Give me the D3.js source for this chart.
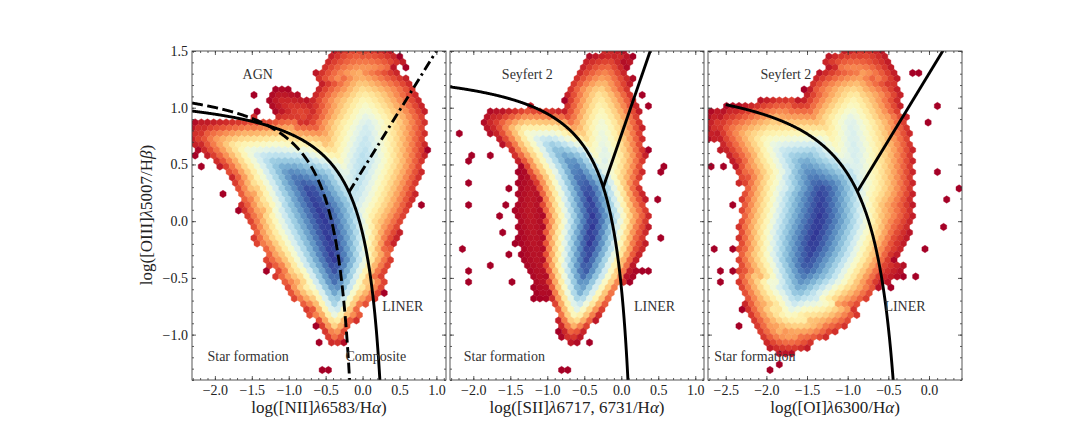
<!DOCTYPE html>
<html>
<head>
<meta charset="utf-8">
<script src="https://cdn.jsdelivr.net/npm/d3@7"></script>
<style>
body { margin: 0; background: #fff; }
text { font-family: "Liberation Serif", "DejaVu Serif", serif; }
</style>
</head>
<body>
<div id="chart"></div>
<script>
// ---- data ----
var yDomain = [-1.4, 1.5];
var yTicks = [-1.0, -0.5, 0.0, 0.5, 1.0, 1.5];

var nIIDomain = [-2.31, 1.13];
var sIIDomain = [-2.315, 1.118];
var oIDomain = [-2.718, 0.406];
var nIITicks = [-2.0, -1.5, -1.0, -0.5, 0.0, 0.5, 1.0];
var sIITicks = [-2.0, -1.5, -1.0, -0.5, 0.0, 0.5, 1.0];
var oITicks = [-2.5, -2.0, -1.5, -1.0, -0.5, 0.0];

// density ridges: [x, y, peak level (0 = 1 count .. 1 = max), spread in x units]
var nIIStarForming = [[-2.20, 0.760, .10, .20], [-2.129, 0.750, .18, .24], [-1.632, 0.648, .50, .42], [-1.226, 0.530, .72, .66],
  [-0.955, 0.412, .88, .80], [-0.707, 0.265, .98, .93], [-0.548, 0.060, 1.0, 1.0], [-0.458, -0.146, 1.0, .90],
  [-0.390, -0.352, 1.0, .76], [-0.368, -0.558, .90, .57], [-0.368, -0.793, .64, .33], [-0.368, -0.999, .24, .16]];
var nIIAgn = [[-0.277, -0.146, .60, .68], [-0.097, 0.236, .66, .78], [0.016, 0.559, .68, .82],
  [0.061, 0.853, .62, .82], [0.016, 1.088, .47, .73], [-0.052, 1.294, .28, .50], [-0.097, 1.441, .10, .27]];
var nIIShoulder = [[-1.090, 1.059, .08, .18], [-0.819, 0.941, .15, .25]];

var sIIStarForming = [[-1.684, 0.868, .12, .19], [-1.324, 0.795, .48, .36], [-0.964, 0.677, .72, .49],
  [-0.648, 0.501, .88, .58], [-0.446, 0.265, .98, .66], [-0.378, 0.030, 1.0, .66], [-0.423, -0.205, 1.0, .64],
  [-0.491, -0.440, .95, .56], [-0.558, -0.646, .78, .43], [-0.626, -0.852, .48, .27], [-0.671, -0.999, .14, .14]];
var sIIHalo = [[-1.180, 0.480, .04, .18], [-1.234, 0.089, .05, .22], [-1.144, -0.322, .04, .20], [-1.020, -0.616, .03, .14]];
var sIIAgn = [[-0.243, 0.265, .58, .50], [-0.220, 0.559, .60, .55], [-0.265, 0.853, .55, .55],
  [-0.288, 1.118, .42, .46], [-0.198, 1.324, .22, .37], [-0.108, 1.456, .08, .19]];
var sIILiner = [[-0.198, 0.265, .55, .46], [-0.018, 0.030, .45, .42], [0.027, -0.234, .26, .33], [0.027, -0.411, .08, .19]];

var oIStarForming = [[-2.60, 0.830, .08, .20], [-2.472, 0.824, .18, .29], [-1.980, 0.706, .52, .60], [-1.529, 0.501, .82, .84],
  [-1.324, 0.265, .98, .97], [-1.345, 0.030, 1.0, .99], [-1.427, -0.205, 1.0, .95], [-1.508, -0.411, .95, .86],
  [-1.611, -0.616, .78, .67], [-1.713, -0.822, .52, .47], [-1.796, -0.969, .24, .30], [-1.836, -1.043, .08, .16]];
var oIAgn = [[-0.873, 0.324, .60, .69], [-0.914, 0.618, .62, .73], [-0.955, 0.883, .60, .69],
  [-0.914, 1.118, .44, .57], [-0.832, 1.294, .24, .41], [-0.750, 1.441, .08, .21]];
var oILiner = [[-0.873, 0.324, .55, .60], [-0.791, 0.030, .45, .62], [-0.750, -0.264, .22, .49], [-0.709, -0.411, .07, .26]];

// isolated single-count bins
var nIISparse = [[-1.43, 1.10], [-1.43, 0.97], [-0.458, 1.32], [-2.29, 0.59], [-2.17, 0.47], [-1.88, 0.25],
  [-1.70, 0.09], [-1.59, 0.06], [-1.34, -0.43], [-1.27, -0.31], [-1.11, -0.50], [-0.955, -0.53], [-0.73, -0.69],
  [-0.617, -0.94], [0.039, -0.63], [0.152, -0.56], [0.264, -0.65], [0.829, 0.148], [0.897, 0.618], [0.874, 0.868],
  [0.648, 1.206], [0.58, 1.35], [0.49, 1.44], [-0.187, 1.47], [-1.00, 1.147], [-0.58, -1.33], [-0.44, -1.33],
  [-0.56, -1.05], [-0.06, -0.67], [-1.10, -0.48]];
var sIISparse = [[-2.18, 0.78], [-2.09, 0.515], [-1.98, 0.574], [-2.09, 0.324], [-2.045, 0.163], [-1.73, 0.574],
  [-1.59, 0.163], [-1.61, 0.06], [-2.18, -0.25], [-2.045, -0.455], [-2.045, -0.558], [-1.75, -0.396], [-1.48, -0.558],
  [-1.64, -0.10], [-1.21, -0.66], [-0.874, -0.97], [-0.806, -0.97], [-0.693, -1.07], [-0.40, -1.07], [0.252, -0.455],
  [0.117, -0.558], [0.388, -0.455], [0.52, -0.146], [0.52, 0.207], [0.613, 0.471], [0.50, 0.427], [0.388, 0.618],
  [0.388, 1.03], [0.252, 1.118], [0.14, 1.44], [-0.22, 1.485], [-0.78, 1.074], [-0.78, -1.33], [-0.73, -1.33],
  [-1.50, 0.30], [-1.45, -0.20], [-1.55, -0.30], [-1.40, 0.45]];
var oISparse = [[-2.68, 0.47], [-2.66, -0.26], [-2.53, 0.47], [-2.41, 0.133], [-2.45, -0.425], [-2.43, -0.26],
  [-2.33, -0.763], [-2.31, -0.94], [-1.775, -1.057], [-1.28, -1.03], [-0.443, -0.60], [-0.30, -0.50], [-0.176, -0.50],
  [-0.03, -0.26], [0.152, -0.028], [0.193, 0.177], [0.07, 0.412], [0.378, 0.30], [0.0, 0.868], [0.11, 1.03],
  [-0.237, 1.324], [-0.135, 1.324], [-0.627, 1.485], [-1.51, 1.16], [-1.41, 1.088], [-1.956, -1.33], [-1.855, -1.27],
  [-2.57, -0.43], [-2.57, -0.55]];

// demarcation lines: hyperbola [a, b, c] -> y = a/(x-b)+c ; straight [m, q] -> y = m x + q
var kewleyNII = [0.61, 0.47, 1.19];
var kauffmannNII = [0.61, 0.05, 1.30];
var schawinskiNII = [1.05, 0.45];
var maxSII = [0.62, 0.31, 1.42];
var seyfertLinerSII = [1.89, 0.76];
var maxOI = [0.82, -0.145, 1.375];
var seyfertLinerOI = [1.18, 1.30];

// ---- layout ----
var svgWidth = 1069, svgHeight = 428;
var panelLefts = [192, 450, 708];
var panelWidth = 254;
var plotTop = 51, plotBottom = 380;
var hexW = 6.2, hexRow = 5.5;

var svg = d3.select("#chart").append("svg")
  .attr("width", svgWidth)
  .attr("height", svgHeight);

var yScale = d3.scaleLinear().domain(yDomain).range([plotBottom, plotTop]);
var color = d3.interpolateRdYlBu;

var panels = [
  { domain: nIIDomain, ticks: nIITicks, ridges: [nIIStarForming, nIIAgn, nIIShoulder], sparse: nIISparse,
    label: ["log([NII]", "λ", "6583/H", "α", ")"] },
  { domain: sIIDomain, ticks: sIITicks, ridges: [sIIStarForming, sIIHalo, sIIAgn, sIILiner], sparse: sIISparse,
    label: ["log([SII]", "λ", "6717, 6731/H", "α", ")"] },
  { domain: oIDomain, ticks: oITicks, ridges: [oIStarForming, oIAgn, oILiner], sparse: oISparse,
    label: ["log([OI]", "λ", "6300/H", "α", ")"] }
];

// level of a bin centre: strongest contribution of any ridge, falling off away from it
function levelAt(px, py, ridges, x, kx) {
  var best = 0;
  function take(d, L, H) {
    if (d < H) {
      var v = L * (1 - 0.9 * Math.pow(d / H, 1.25));
      if (v > best) best = v;
    }
  }
  ridges.forEach(function(r) {
    var pts = r.map(function(p) { return [x(p[0]), yScale(p[1]), p[2], p[3] * kx]; });
    var inside = [];
    for (var i = 0; i < pts.length - 1; i++) {
      var a = pts[i], b = pts[i + 1];
      var dx = b[0] - a[0], dy = b[1] - a[1], len2 = dx * dx + dy * dy;
      var t = len2 > 0 ? ((px - a[0]) * dx + (py - a[1]) * dy) / len2 : -1;
      inside[i] = t >= 0 && t <= 1;
      if (inside[i]) {
        take(Math.hypot(px - (a[0] + t * dx), py - (a[1] + t * dy)), a[2] + t * (b[2] - a[2]), a[3] + t * (b[3] - a[3]));
      }
    }
    for (var v = 0; v < pts.length; v++) {
      if ((v > 0 && inside[v - 1]) || (v < pts.length - 1 && inside[v])) continue;
      take(Math.hypot(px - pts[v][0], py - pts[v][1]), pts[v][2], pts[v][3]);
    }
  });
  return best;
}

var hexPath = "M0," + (-hexRow * 2 / 3) +
  "L" + (hexW / 2) + "," + (-hexRow / 3) +
  "L" + (hexW / 2) + "," + (hexRow / 3) +
  "L0," + (hexRow * 2 / 3) +
  "L" + (-hexW / 2) + "," + (hexRow / 3) +
  "L" + (-hexW / 2) + "," + (-hexRow / 3) + "Z";

panels.forEach(function(p, k) {
  var left = panelLefts[k];
  var x = d3.scaleLinear().domain(p.domain).range([left, left + panelWidth]);
  p.x = x;
  var kx = x(1) - x(0);

  svg.append("clipPath").attr("id", "clip" + k)
    .append("rect").attr("x", left).attr("y", plotTop)
    .attr("width", panelWidth).attr("height", plotBottom - plotTop);

  var g = svg.append("g").attr("clip-path", "url(#clip" + k + ")");

  // hex grid
  var cells = {};
  var nRows = Math.ceil((plotBottom - plotTop) / hexRow) + 2;
  var nCols = Math.ceil(panelWidth / hexW) + 2;
  for (var j = 0; j < nRows; j++) {
    for (var i = 0; i < nCols; i++) {
      var cx = left + i * hexW + (j % 2 ? hexW / 2 : 0);
      var cy = plotTop + j * hexRow;
      var lv = levelAt(cx, cy, p.ridges, x, kx);
      if (lv > 0) cells[i + "," + j] = { cx: cx, cy: cy, lv: lv };
    }
  }
  p.sparse.forEach(function(s) {
    var py = yScale(s[1]);
    var j = Math.round((py - plotTop) / hexRow);
    var i = Math.round((x(s[0]) - left - (j % 2 ? hexW / 2 : 0)) / hexW);
    var key = i + "," + j;
    if (!cells[key]) cells[key] = { cx: left + i * hexW + (j % 2 ? hexW / 2 : 0), cy: plotTop + j * hexRow, lv: 0 };
  });

  g.selectAll("path.hex")
    .data(Object.values(cells))
    .enter()
    .append("path")
    .attr("class", "hex")
    .attr("d", hexPath)
    .attr("transform", function(d) { return "translate(" + d.cx + "," + d.cy + ")"; })
    .attr("fill", function(d) { return color(Math.min(1, d.lv)); })
    .attr("stroke", function(d) { return color(Math.min(1, d.lv)); })
    .attr("stroke-width", 0.4);

  p.g = g;
});

// demarcation curves
function hyperbola(c, x0, x1) {
  var pts = d3.range(0, 401).map(function(i) { return x0 + (x1 - x0) * i / 400; });
  return pts.map(function(v) { return [v, c[0] / (v - c[1]) + c[2]]; });
}
function crossing(h, s, lo, hi) {
  // bisection between hyperbola and straight line on the left branch
  function f(v) { return h[0] / (v - h[1]) + h[2] - (s[0] * v + s[1]); }
  for (var n = 0; n < 60; n++) {
    var mid = (lo + hi) / 2;
    if (f(lo) * f(mid) <= 0) hi = mid; else lo = mid;
  }
  return (lo + hi) / 2;
}
function drawLine(p, pts, dash) {
  var line = d3.line().x(function(d) { return p.x(d[0]); }).y(function(d) { return yScale(d[1]); });
  p.g.append("path")
    .attr("d", line(pts))
    .attr("fill", "none")
    .attr("stroke", "#000")
    .attr("stroke-width", 2.9)
    .attr("stroke-dasharray", dash || null);
}

var p1 = panels[0], p2 = panels[1], p3 = panels[2];
drawLine(p1, hyperbola(kauffmannNII, nIIDomain[0], kauffmannNII[1] - 0.19), "11,4.5");
drawLine(p1, hyperbola(kewleyNII, nIIDomain[0], kewleyNII[1] - 0.2));
var xs1 = crossing(kewleyNII, schawinskiNII, -1.5, 0.4);
drawLine(p1, [[xs1, schawinskiNII[0] * xs1 + schawinskiNII[1]], [1.2, schawinskiNII[0] * 1.2 + schawinskiNII[1]]], "10,4,2.5,4");

drawLine(p2, hyperbola(maxSII, sIIDomain[0], maxSII[1] - 0.2));
var xs2 = crossing(maxSII, seyfertLinerSII, -1.5, 0.25);
drawLine(p2, [[xs2, seyfertLinerSII[0] * xs2 + seyfertLinerSII[1]], [0.5, seyfertLinerSII[0] * 0.5 + seyfertLinerSII[1]]]);

drawLine(p3, hyperbola(maxOI, -2.5, maxOI[1] - 0.25));
var xs3 = crossing(maxOI, seyfertLinerOI, -2.0, -0.2);
drawLine(p3, [[xs3, seyfertLinerOI[0] * xs3 + seyfertLinerOI[1]], [0.3, seyfertLinerOI[0] * 0.3 + seyfertLinerOI[1]]]);

// region labels
var regionLabels = [
  [0, "AGN", -1.42, 1.25], [0, "LINER", 0.545, -0.79], [0, "Star formation", -1.55, -1.23], [0, "Composite", 0.18, -1.23],
  [1, "Seyfert 2", -1.27, 1.25], [1, "LINER", 0.45, -0.79], [1, "Star formation", -1.58, -1.23],
  [2, "Seyfert 2", -1.76, 1.25], [2, "LINER", -0.295, -0.79], [2, "Star formation", -2.14, -1.23]
];
regionLabels.forEach(function(r) {
  svg.append("text")
    .attr("x", panels[r[0]].x(r[2]))
    .attr("y", yScale(r[3]))
    .attr("text-anchor", "middle")
    .attr("font-size", 14)
    .attr("fill", "#333")
    .text(r[1]);
});

// frames and ticks
function minorRange(d) { return d3.range(Math.ceil(d[0] * 10), Math.floor(d[1] * 10) + 1).map(function(v) { return v / 10; }); }
function styleAxis(sel) {
  sel.select(".domain").remove();
  sel.selectAll("line").attr("stroke", "#333").attr("stroke-width", 0.8);
  sel.selectAll("text").attr("font-size", 14).attr("fill", "#222")
    .style("font-family", "'Liberation Serif', 'DejaVu Serif', serif");
}
var fmt = function(v) { return d3.format(".1f")(v).replace("-", "−"); };

panels.forEach(function(p, k) {
  var left = panelLefts[k];
  var ax = svg.append("g");
  ax.append("g").attr("transform", "translate(0," + plotBottom + ")")
    .call(d3.axisBottom(p.x).tickValues(minorRange(p.domain)).tickFormat("").tickSizeInner(-2).tickSizeOuter(0)).call(styleAxis);
  ax.append("g").attr("transform", "translate(0," + plotBottom + ")")
    .call(d3.axisBottom(p.x).tickValues(p.ticks).tickFormat(fmt).tickSizeInner(-4).tickSizeOuter(0).tickPadding(5)).call(styleAxis);
  ax.append("g").attr("transform", "translate(0," + plotTop + ")")
    .call(d3.axisTop(p.x).tickValues(minorRange(p.domain)).tickFormat("").tickSizeInner(-2).tickSizeOuter(0)).call(styleAxis);
  ax.append("g").attr("transform", "translate(0," + plotTop + ")")
    .call(d3.axisTop(p.x).tickValues(p.ticks).tickFormat("").tickSizeInner(-4).tickSizeOuter(0)).call(styleAxis);
  ax.append("g").attr("transform", "translate(" + left + ",0)")
    .call(d3.axisLeft(yScale).tickValues(minorRange(yDomain)).tickFormat("").tickSizeInner(-2).tickSizeOuter(0)).call(styleAxis);
  ax.append("g").attr("transform", "translate(" + left + ",0)")
    .call(d3.axisLeft(yScale).tickValues(yTicks).tickFormat(k === 0 ? fmt : "").tickSizeInner(-4).tickSizeOuter(0).tickPadding(4)).call(styleAxis);
  ax.append("g").attr("transform", "translate(" + (left + panelWidth) + ",0)")
    .call(d3.axisRight(yScale).tickValues(minorRange(yDomain)).tickFormat("").tickSizeInner(-2).tickSizeOuter(0)).call(styleAxis);
  ax.append("g").attr("transform", "translate(" + (left + panelWidth) + ",0)")
    .call(d3.axisRight(yScale).tickValues(yTicks).tickFormat("").tickSizeInner(-4).tickSizeOuter(0)).call(styleAxis);

  ax.append("rect")
    .attr("x", left).attr("y", plotTop)
    .attr("width", panelWidth).attr("height", plotBottom - plotTop)
    .attr("fill", "none").attr("stroke", "#444").attr("stroke-width", 0.9);

  // x label
  var t = svg.append("text")
    .attr("x", left + panelWidth / 2)
    .attr("y", 413)
    .attr("text-anchor", "middle")
    .attr("font-size", 17)
    .attr("fill", "#222");
  p.label.forEach(function(s, i) {
    t.append("tspan").attr("font-style", i % 2 ? "italic" : "normal").text(s);
  });
});

// y label
var yl = svg.append("text")
  .attr("transform", "translate(152,215) rotate(-90)")
  .attr("text-anchor", "middle")
  .attr("font-size", 17)
  .attr("fill", "#222");
["log([OIII]", "λ", "5007/H", "β", ")"].forEach(function(s, i) {
  yl.append("tspan").attr("font-style", i % 2 ? "italic" : "normal").text(s);
});
</script>
</body>
</html>
